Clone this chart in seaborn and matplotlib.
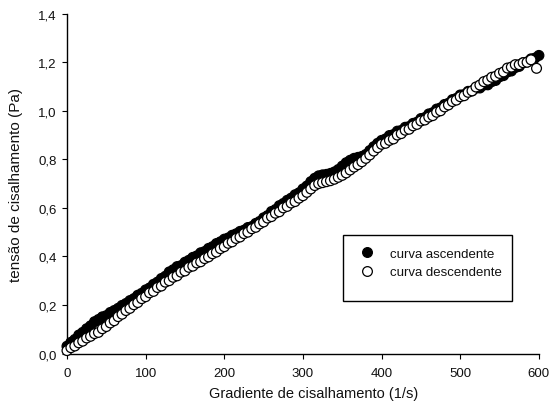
import matplotlib
matplotlib.use("Agg")
import matplotlib.pyplot as plt
from matplotlib.lines import Line2D
from matplotlib.patches import Rectangle
import seaborn as sns
import pandas as pd

# Shear rate (1/s) and shear stress (Pa), ramp up and ramp down
rate_up = [0, 5, 10, 15, 20, 25, 30, 35, 40, 45, 50, 55, 60, 65, 70, 75, 80, 85, 90, 95,
           100, 105, 110, 115, 120, 125, 130, 135, 140, 145, 150, 155, 160, 165, 170, 175,
           180, 185, 190, 195, 200, 205, 210, 215, 220, 225, 230, 235, 240, 245, 250, 255,
           260, 265, 270, 275, 280, 285, 290, 295, 300, 305, 310, 315, 320, 325, 330, 335,
           340, 345, 350, 355, 360, 365, 370, 375, 380, 385, 390, 395, 400, 405, 410, 415,
           420, 425, 430, 435, 440, 445, 450, 455, 460, 465, 470, 475, 480, 485, 490, 495,
           500, 505, 510, 515, 520, 525, 530, 535, 540, 545, 550, 555, 560, 565, 570, 575,
           580, 585, 590, 595, 600]
stress_up = [0.030, 0.046, 0.058, 0.076, 0.087, 0.102, 0.114, 0.131, 0.140, 0.151,
             0.156, 0.169, 0.177, 0.186, 0.198, 0.206, 0.218, 0.226, 0.240, 0.248,
             0.262, 0.270, 0.285, 0.294, 0.309, 0.318, 0.336, 0.345, 0.358, 0.362,
             0.376, 0.384, 0.396, 0.402, 0.415, 0.420, 0.433, 0.440, 0.453, 0.460,
             0.471, 0.476, 0.487, 0.493, 0.503, 0.508, 0.519, 0.523, 0.536, 0.544,
             0.559, 0.568, 0.585, 0.593, 0.609, 0.618, 0.631, 0.640, 0.654, 0.662,
             0.678, 0.690, 0.708, 0.722, 0.732, 0.736, 0.738, 0.742, 0.748, 0.758,
             0.772, 0.786, 0.796, 0.804, 0.808, 0.812, 0.820, 0.836, 0.852, 0.866,
             0.878, 0.884, 0.898, 0.902, 0.916, 0.919, 0.932, 0.935, 0.948, 0.953,
             0.968, 0.972, 0.987, 0.992, 1.007, 1.012, 1.026, 1.031, 1.046, 1.051,
             1.065, 1.067, 1.080, 1.082, 1.093, 1.094, 1.106, 1.107, 1.120, 1.125,
             1.140, 1.145, 1.160, 1.164, 1.178, 1.183, 1.198, 1.201, 1.214, 1.217,
             1.228]

rate_down = [0, 5, 10, 15, 20, 25, 30, 35, 40, 45, 50, 55, 60, 65, 70, 75, 80, 85, 90, 95,
             100, 105, 110, 115, 120, 125, 130, 135, 140, 145, 150, 155, 160, 165, 170, 175,
             180, 185, 190, 195, 200, 205, 210, 215, 220, 225, 230, 235, 240, 245, 250, 255,
             260, 265, 270, 275, 280, 285, 290, 295, 300, 305, 310, 315, 320, 325, 330, 335,
             340, 345, 350, 355, 360, 365, 370, 375, 380, 385, 390, 395, 400, 405, 410, 415,
             420, 425, 430, 435, 440, 445, 450, 455, 460, 465, 470, 475, 480, 485, 490, 495,
             500, 505, 510, 515, 520, 525, 530, 535, 540, 545, 550, 555, 560, 565, 570, 575,
             580, 585, 590, 597]
stress_down = [0.012, 0.024, 0.031, 0.044, 0.051, 0.064, 0.071, 0.082, 0.087, 0.102,
               0.111, 0.126, 0.135, 0.152, 0.162, 0.177, 0.186, 0.201, 0.210, 0.226,
               0.234, 0.250, 0.256, 0.272, 0.278, 0.294, 0.300, 0.314, 0.320, 0.335,
               0.340, 0.355, 0.360, 0.373, 0.378, 0.391, 0.398, 0.411, 0.418, 0.432,
               0.440, 0.454, 0.460, 0.474, 0.480, 0.494, 0.500, 0.514, 0.520, 0.534,
               0.542, 0.558, 0.564, 0.578, 0.584, 0.600, 0.606, 0.620, 0.626, 0.640,
               0.650, 0.664, 0.678, 0.692, 0.700, 0.704, 0.708, 0.712, 0.718, 0.726,
               0.734, 0.744, 0.756, 0.768, 0.778, 0.790, 0.804, 0.818, 0.834, 0.848,
               0.862, 0.866, 0.878, 0.884, 0.900, 0.906, 0.920, 0.924, 0.938, 0.944,
               0.958, 0.962, 0.974, 0.980, 0.994, 1.000, 1.016, 1.024, 1.038, 1.044,
               1.058, 1.062, 1.076, 1.082, 1.098, 1.106, 1.120, 1.126, 1.138, 1.142,
               1.154, 1.160, 1.176, 1.180, 1.190, 1.190, 1.198, 1.200, 1.210, 1.175]

curve_names = ["curva ascendente", "curva descendente"]
x_ticks = [0, 100, 200, 300, 400, 500, 600]
y_ticks = [0.0, 0.2, 0.4, 0.6, 0.8, 1.0, 1.2, 1.4]
y_tick_labels = ["0,0", "0,2", "0,4", "0,6", "0,8", "1,0", "1,2", "1,4"]

df = pd.DataFrame({
    "rate": rate_up + rate_down,
    "stress": stress_up + stress_down,
    "curva": [curve_names[0]] * len(rate_up) + [curve_names[1]] * len(rate_down),
})

sns.set_theme(style="ticks")
plt.rcParams["font.family"] = ["Liberation Sans", "DejaVu Sans"]

fig = plt.figure(figsize=(5.5, 4.14), dpi=100)
ax = fig.add_axes([0.1218, 0.1437, 0.858, 0.8208])

sns.scatterplot(data=df, x="rate", y="stress", hue="curva",
                palette={curve_names[0]: "black", curve_names[1]: "white"},
                edgecolor="black", linewidth=0.9, s=50, legend=False,
                clip_on=False, zorder=3, ax=ax)

ax.set_xlim(0, 600)
ax.set_ylim(0, 1.4)
ax.set_xticks(x_ticks)
ax.set_xticklabels([str(v) for v in x_ticks])
ax.set_yticks(y_ticks)
ax.set_yticklabels(y_tick_labels)

for side in ["top", "right"]:
    ax.spines[side].set_visible(False)
for side in ["left", "bottom"]:
    ax.spines[side].set_color("black")
    ax.spines[side].set_linewidth(1.0)

ax.tick_params(axis="both", direction="out", length=3.5, width=0.8,
               color="black", labelsize=9.5, labelcolor="#111111")
ax.tick_params(axis="x", pad=6)
ax.tick_params(axis="y", pad=4)

ax.set_xlabel("Gradiente de cisalhamento (1/s)", fontsize=10.5, color="#111111")
ax.set_ylabel("tensão de cisalhamento (Pa)", fontsize=11, color="#111111")
ax.xaxis.set_label_coords(0.523, -0.097)
ax.yaxis.set_label_coords(-0.093, 0.5)

# Legend box with extra room beneath the two entries
ax.add_patch(Rectangle((0.584, 0.1545), 0.358, 0.1945, transform=ax.transAxes,
                       facecolor="white", edgecolor="black", linewidth=1.0,
                       zorder=4, clip_on=False))
handles = [
    Line2D([], [], marker="o", linestyle="none", markerfacecolor="black",
           markeredgecolor="black", markersize=7, markeredgewidth=0.9),
    Line2D([], [], marker="o", linestyle="none", markerfacecolor="white",
           markeredgecolor="black", markersize=7, markeredgewidth=0.9),
]
leg = ax.legend(handles, curve_names, loc="upper left",
                bbox_to_anchor=(0.584, 0.343), borderaxespad=0,
                fontsize=9.5, frameon=False,
                handlelength=2.05, handletextpad=0.74, borderpad=0.8,
                labelspacing=0.48)
leg.set_zorder(5)
for t in leg.get_texts():
    t.set_color("#111111")

fig.savefig("out.png", dpi=100, facecolor="white")
